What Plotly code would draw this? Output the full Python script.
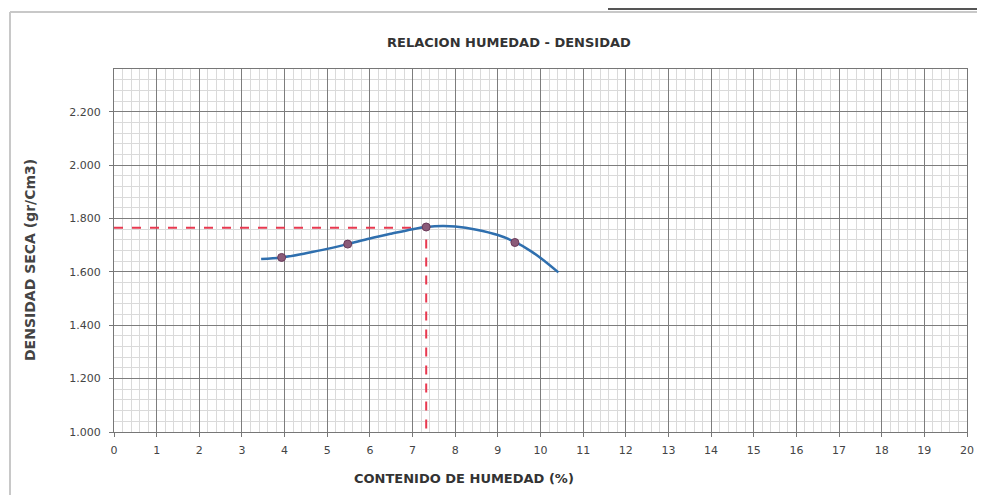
import plotly.graph_objects as go

# Data
humedad = [3.93, 5.48, 7.32, 9.40]
densidad = [1.654, 1.704, 1.768, 1.710]

curva_x = [3.45, 3.93, 4.5, 5.0, 5.48, 6.0, 6.5, 7.0, 7.32, 7.7, 8.0, 8.5, 9.0, 9.4, 9.8, 10.1, 10.42]
curva_y = [1.648, 1.654, 1.670, 1.686, 1.704, 1.725, 1.743, 1.760, 1.768, 1.772, 1.770, 1.758, 1.738, 1.712, 1.675, 1.640, 1.598]

opt_humedad = 7.32
max_densidad = 1.765

x_ticks = list(range(0, 21))
y_ticks = [1.0, 1.2, 1.4, 1.6, 1.8, 2.0, 2.2]

font_fam = "DejaVu Sans, Liberation Sans, Arial, sans-serif"

fig = go.Figure()

fig.add_trace(go.Scatter(
    x=[0, opt_humedad, opt_humedad], y=[max_densidad, max_densidad, 1.0],
    mode="lines", line=dict(color="#e8384f", width=2, dash="dash"),
    hoverinfo="skip", showlegend=False, cliponaxis=False))

fig.add_trace(go.Scatter(
    x=curva_x, y=curva_y, mode="lines", line=dict(color="#2f6fae", width=2.5, shape="spline"),
    showlegend=False))

fig.add_trace(go.Scatter(
    x=humedad, y=densidad, mode="markers",
    marker=dict(color="#8a5a78", size=8, line=dict(color="#6a3a5a", width=1)),
    showlegend=False))

# plot area in screen pixels: x 114..967, y 69..432 (page has 8px body margin)
PX0, PX1, PY0, PY1 = 114, 967, 69, 432
W, H = PX1 - PX0, PY1 - PY0


def fx(px):
    return (px - PX0) / W


def fy(py):
    return (PY1 - py) / H


fig.update_layout(
    width=985, height=495,
    margin=dict(l=PX0 - 8, r=985 + 8 - PX1, t=PY0 - 8, b=495 + 8 - PY1),
    paper_bgcolor="white", plot_bgcolor="white",
    font=dict(family=font_fam, color="#333", size=9),
    showlegend=False,
    xaxis=dict(
        range=[0, 20], tickvals=x_ticks, ticktext=[str(v) for v in x_ticks],
        showgrid=True, gridcolor="#7d7d7d", gridwidth=1,
        minor=dict(dtick=0.2, showgrid=True, gridcolor="#dadada", gridwidth=1),
        showline=True, linecolor="#777", linewidth=1, mirror=True,
        ticks="outside", ticklen=4, tickcolor="#777", ticklabelstandoff=4,
        zeroline=False, tickfont=dict(size=11, color="#444"),
    ),
    yaxis=dict(
        range=[1.0, 2.36], tickvals=y_ticks, ticktext=[f"{v:.3f}" for v in y_ticks],
        showgrid=True, gridcolor="#7d7d7d", gridwidth=1,
        minor=dict(dtick=0.04, showgrid=True, gridcolor="#dadada", gridwidth=1),
        showline=True, linecolor="#777", linewidth=1, mirror=True,
        ticks="outside", ticklen=4, tickcolor="#777", ticklabelstandoff=6,
        zeroline=False, tickfont=dict(size=11, color="#444"),
    ),
    annotations=[
        dict(text="<b>RELACION HUMEDAD - DENSIDAD</b>", xref="paper", yref="paper",
             x=fx(509), y=fy(43), xanchor="center", yanchor="middle",
             showarrow=False, font=dict(size=13, color="#333")),
        dict(text="<b>CONTENIDO DE HUMEDAD (%)</b>", xref="paper", yref="paper",
             x=fx(464), y=fy(478), xanchor="center", yanchor="middle",
             showarrow=False, font=dict(size=13, color="#333")),
        dict(text="<b>DENSIDAD SECA (gr/Cm3)</b>", xref="paper", yref="paper",
             x=fx(30), y=fy(260), xanchor="center", yanchor="middle",
             textangle=-90, showarrow=False, font=dict(size=14, color="#444")),
    ],
    shapes=[
        dict(type="line", xref="paper", yref="paper",
             x0=fx(10), x1=fx(985), y0=fy(12), y1=fy(12),
             line=dict(color="#c8c8c8", width=2)),
        dict(type="line", xref="paper", yref="paper",
             x0=fx(10), x1=fx(10), y0=fy(12), y1=fy(495),
             line=dict(color="#c8c8c8", width=2)),
        dict(type="line", xref="paper", yref="paper",
             x0=fx(608), x1=fx(985), y0=fy(9), y1=fy(9),
             line=dict(color="#555", width=2)),
    ],
)

fig.write_html("out.html")
